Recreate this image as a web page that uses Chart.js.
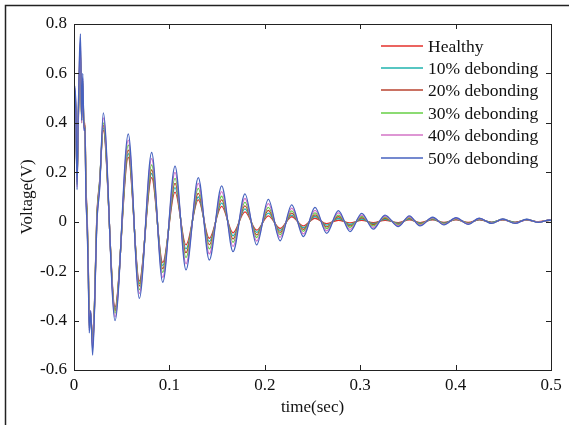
<!DOCTYPE html>
<html>
<head>
<meta charset="utf-8">
<script src="https://cdn.jsdelivr.net/npm/chart.js@4.4.1/dist/chart.umd.min.js"></script>
<style>
	html, body { margin: 0; padding: 0; background: #fff; }
	#wrap { width: 569px; height: 425px; }
</style>
</head>
<body>
<div id="wrap"><canvas id="voltage_chart" width="569" height="425"></canvas></div>
<script>
	// time of each sample (sec): noisy start, then peaks / troughs
	var times = [
		0, 0.0008, 0.002, 0.0032, 0.0045, 0.0058, 0.0068, 0.008, 0.0092, 0.0104,
		0.0115, 0.0125, 0.0138, 0.015, 0.016, 0.0175, 0.0195, 0.0215, 0.0238, 0.027,
		0.0307, 0.043, 0.0569, 0.0685, 0.0814, 0.093, 0.1059, 0.1174, 0.1303, 0.1418,
		0.1548, 0.1667, 0.1792, 0.1915, 0.2037, 0.216, 0.2282, 0.2404, 0.2526, 0.2649,
		0.2771, 0.2893, 0.3016, 0.3137, 0.326, 0.34, 0.3515, 0.3627, 0.376, 0.3878,
		0.4004, 0.4133, 0.4248, 0.4378, 0.4494, 0.4623, 0.4745, 0.4867, 0.499, 0.5
	];

	var labels = ['Healthy', '10% debonding', '20% debonding', '30% debonding', '40% debonding', '50% debonding'];
	var colors = ['#e5312b', '#1fb3ae', '#b9432f', '#66cf45', '#d373c6', '#4662bf'];

	var healthy = [
		-0.15, 0.50, 0.43, 0.18, 0.40, 0.60, 0.67, 0.42, 0.54, 0.39,
		0.40, 0.15, 0.03, -0.18, -0.40, -0.37, -0.48, -0.33, 0.01, 0.17,
		0.37, -0.345, 0.26, -0.24, 0.178, -0.165, 0.12, -0.094, 0.088, -0.067,
		0.062, -0.045, 0.04, -0.034, 0.024, -0.027, 0.02, -0.017, 0.014, -0.008,
		0.006, -0.005, 0.006, -0.004, 0.006, -0.004, 0.008, -0.004, 0.008, -0.003,
		0.008, -0.003, 0.008, -0.002, 0.008, -0.002, 0.007, 0.0, 0.006, 0.005
	];
	var deb10 = [
		-0.15, 0.51, 0.43, 0.17, 0.41, 0.61, 0.68, 0.41, 0.55, 0.39,
		0.39, 0.14, 0.02, -0.19, -0.41, -0.38, -0.49, -0.33, 0.0, 0.17,
		0.38, -0.355, 0.275, -0.25, 0.195, -0.178, 0.138, -0.11, 0.10, -0.08,
		0.075, -0.057, 0.052, -0.043, 0.035, -0.035, 0.027, -0.024, 0.021, -0.014,
		0.013, -0.011, 0.011, -0.008, 0.01, -0.007, 0.011, -0.006, 0.01, -0.005,
		0.01, -0.005, 0.009, -0.003, 0.009, -0.003, 0.008, -0.001, 0.006, 0.005
	];
	var deb20 = [
		-0.15, 0.52, 0.44, 0.16, 0.42, 0.62, 0.69, 0.41, 0.56, 0.38,
		0.39, 0.13, 0.01, -0.19, -0.42, -0.37, -0.50, -0.34, 0.0, 0.16,
		0.39, -0.36, 0.29, -0.26, 0.21, -0.19, 0.155, -0.125, 0.115, -0.093,
		0.088, -0.07, 0.064, -0.053, 0.046, -0.043, 0.035, -0.031, 0.028, -0.021,
		0.02, -0.017, 0.016, -0.012, 0.014, -0.01, 0.014, -0.009, 0.012, -0.007,
		0.011, -0.006, 0.01, -0.004, 0.009, -0.004, 0.008, -0.001, 0.006, 0.005
	];
	var deb30 = [
		-0.15, 0.53, 0.44, 0.15, 0.43, 0.64, 0.71, 0.40, 0.57, 0.38,
		0.38, 0.12, 0.0, -0.20, -0.43, -0.37, -0.51, -0.34, -0.01, 0.16,
		0.40, -0.37, 0.31, -0.275, 0.23, -0.205, 0.175, -0.145, 0.135, -0.11,
		0.103, -0.083, 0.078, -0.064, 0.058, -0.052, 0.044, -0.039, 0.036, -0.028,
		0.027, -0.023, 0.021, -0.017, 0.018, -0.013, 0.017, -0.011, 0.014, -0.009,
		0.013, -0.008, 0.012, -0.005, 0.01, -0.005, 0.009, -0.002, 0.007, 0.004
	];
	var deb40 = [
		-0.15, 0.54, 0.45, 0.14, 0.44, 0.66, 0.73, 0.40, 0.58, 0.37,
		0.38, 0.11, -0.01, -0.21, -0.44, -0.36, -0.52, -0.35, -0.02, 0.15,
		0.42, -0.385, 0.33, -0.29, 0.255, -0.225, 0.20, -0.17, 0.155, -0.13,
		0.122, -0.10, 0.094, -0.078, 0.073, -0.063, 0.055, -0.049, 0.046, -0.037,
		0.036, -0.031, 0.027, -0.023, 0.022, -0.016, 0.02, -0.014, 0.016, -0.011,
		0.014, -0.009, 0.013, -0.006, 0.01, -0.006, 0.009, -0.002, 0.007, 0.004
	];
	var deb50 = [
		-0.15, 0.55, 0.46, 0.13, 0.45, 0.68, 0.76, 0.41, 0.60, 0.37,
		0.38, 0.10, -0.02, -0.22, -0.45, -0.36, -0.54, -0.36, -0.02, 0.14,
		0.44, -0.40, 0.355, -0.31, 0.28, -0.245, 0.225, -0.195, 0.178, -0.155,
		0.145, -0.121, 0.113, -0.094, 0.09, -0.077, 0.068, -0.06, 0.058, -0.047,
		0.045, -0.04, 0.034, -0.03, 0.027, -0.02, 0.024, -0.017, 0.018, -0.013,
		0.016, -0.011, 0.014, -0.007, 0.011, -0.007, 0.01, -0.003, 0.007, 0.004
	];

	var xTicks = [0, 0.1, 0.2, 0.3, 0.4, 0.5];
	var yTicks = [-0.6, -0.4, -0.2, 0, 0.2, 0.4, 0.6, 0.8];

	var series = [healthy, deb10, deb20, deb30, deb40, deb50];
	var serif = "'Liberation Serif', 'Times New Roman', serif";

	function fmt(v) {
		if (Math.abs(v) < 1e-9) return '0';
		return (Math.round(v * 10) / 10).toString();
	}

	var datasets = series.map(function (vals, i) {
		return {
			label: labels[i],
			data: vals.map(function (v, k) { return { x: times[k], y: v }; }),
			borderColor: colors[i],
			backgroundColor: colors[i],
			borderWidth: 1.3,
			pointRadius: 0,
			cubicInterpolationMode: 'monotone',
			fill: false,
			// later series painted over earlier ones (50% on top)
			order: series.length - 1 - i
		};
	});

	// box + inward ticks on all four sides, matlab style
	const frame_plugin = {
		id: 'matlab_frame',
		beforeDraw: (chart) => {
			const ctx = chart.ctx;
			ctx.save();
			ctx.fillStyle = '#fff';
			ctx.fillRect(0, 0, chart.width, chart.height);
			ctx.strokeStyle = '#222';
			ctx.lineWidth = 1.5;
			ctx.beginPath();
			ctx.moveTo(5.5, chart.height);
			ctx.lineTo(5.5, 5.5);
			ctx.lineTo(chart.width, 5.5);
			ctx.stroke();
			ctx.restore();
		},
		afterDraw: (chart) => {
			const ctx = chart.ctx;
			const {left, right, top, bottom} = chart.chartArea;
			const xs = chart.scales.x, ys = chart.scales.y;
			ctx.save();
			ctx.strokeStyle = '#222';
			ctx.lineWidth = 1;
			ctx.strokeRect(left + 0.5, top + 0.5, right - left, bottom - top);
			ctx.beginPath();
			xTicks.forEach(function (v) {
				var px = Math.round(xs.getPixelForValue(v)) + 0.5;
				ctx.moveTo(px, bottom); ctx.lineTo(px, bottom - 5);
				ctx.moveTo(px, top); ctx.lineTo(px, top + 5);
			});
			yTicks.forEach(function (v) {
				var py = Math.round(ys.getPixelForValue(v)) + 0.5;
				ctx.moveTo(left, py); ctx.lineTo(left + 5, py);
				ctx.moveTo(right, py); ctx.lineTo(right - 5, py);
			});
			ctx.stroke();

			// legend inside the axes, no box
			ctx.font = '17.5px ' + serif;
			ctx.textBaseline = 'middle';
			ctx.textAlign = 'left';
			ctx.lineWidth = 1.5;
			chart.data.datasets.forEach(function (ds, i) {
				var y = Math.round(top + 21.5 + i * 22.4);
				ctx.strokeStyle = ds.borderColor;
				ctx.beginPath();
				ctx.moveTo(right - 170, y);
				ctx.lineTo(right - 128, y);
				ctx.stroke();
				ctx.fillStyle = '#111';
				ctx.fillText(ds.label, right - 123, y + 1);
			});
			ctx.restore();
		}
	};

	const config = {
		type: 'line',
		data: { datasets: datasets },
		options: {
			responsive: false,
			animation: false,
			devicePixelRatio: 1,
			layout: { padding: { top: 24, right: 18, left: 0, bottom: 0 } },
			plugins: {
				legend: { display: false },
				tooltip: { enabled: false }
			},
			scales: {
				x: {
					type: 'linear',
					min: 0,
					max: 0.5,
					afterFit: function (scale) { scale.height = 55; },
					afterBuildTicks: function (scale) {
						scale.ticks = xTicks.map(function (v) { return { value: v }; });
					},
					grid: { display: false, drawTicks: false },
					border: { display: false },
					ticks: {
						color: '#111',
						padding: 5,
						maxRotation: 0,
						font: { family: serif, size: 17 },
						callback: function (v) { return fmt(v); }
					},
					title: {
						display: true,
						text: 'time(sec)',
						color: '#111',
						font: { family: serif, size: 17 },
						padding: { top: 0, bottom: 7 }
					}
				},
				y: {
					type: 'linear',
					min: -0.6,
					max: 0.8,
					afterFit: function (scale) { scale.width = 74; },
					afterBuildTicks: function (scale) {
						scale.ticks = yTicks.map(function (v) { return { value: v }; });
					},
					grid: { display: false, drawTicks: false },
					border: { display: false },
					ticks: {
						color: '#111',
						padding: 7,
						font: { family: serif, size: 17 },
						callback: function (v) { return fmt(v); }
					},
					title: {
						display: true,
						text: 'Voltage(V)',
						color: '#111',
						font: { family: serif, size: 17 },
						padding: { top: 17, bottom: 0 }
					}
				}
			}
		},
		plugins: [frame_plugin]
	};

	var ctx = document.getElementById('voltage_chart').getContext('2d');
	var voltage_chart = new Chart(ctx, config);
</script>
</body>
</html>
